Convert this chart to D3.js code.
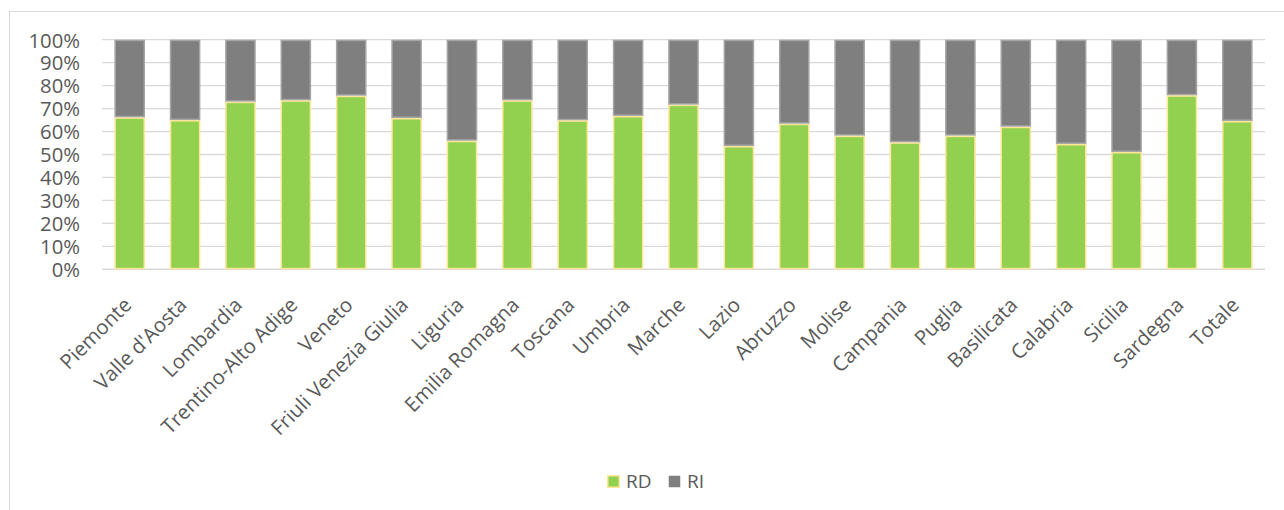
<!DOCTYPE html>
<html>
<head>
<meta charset="utf-8">
<script src="https://cdn.jsdelivr.net/npm/d3@7"></script>
<style>
  html, body { margin: 0; padding: 0; background: #fff; }
  svg { display: block; font-family: "Open Sans", sans-serif; }
</style>
</head>
<body>
<svg id="chart" width="1284" height="510"></svg>
<script>
// Regional share of separate collection (RD) vs unsorted waste (RI)
const regions = ["Piemonte", "Valle d'Aosta", "Lombardia", "Trentino-Alto Adige", "Veneto",
  "Friuli Venezia Giulia", "Liguria", "Emilia Romagna", "Toscana", "Umbria", "Marche",
  "Lazio", "Abruzzo", "Molise", "Campania", "Puglia", "Basilicata", "Calabria", "Sicilia",
  "Sardegna", "Totale"];
const rd = [0.662, 0.650, 0.730, 0.736, 0.756, 0.659, 0.560, 0.736, 0.649, 0.668, 0.717,
  0.537, 0.634, 0.582, 0.553, 0.582, 0.621, 0.546, 0.511, 0.758, 0.646];
const ri = rd.map(v => 1 - v);
const seriesNames = ["RD", "RI"];
const yTicks = [0, 0.1, 0.2, 0.3, 0.4, 0.5, 0.6, 0.7, 0.8, 0.9, 1.0];

const colors = { RD: "#92D050", RI: "#7F7F7F" };
const strokes = { RD: "#FFE699", RI: "#A5A5A5" };
const FONT = "'Open Sans', sans-serif";

const svg = d3.select("#chart");
const plot = { left: 102, right: 1265, top: 39.7, bottom: 269.3 };

// outer chart frame
svg.append("rect")
  .attr("x", 9.5).attr("y", 11.5)
  .attr("width", 1300).attr("height", 520)
  .attr("fill", "none").attr("stroke", "#D9D9D9").attr("stroke-width", 1);

const x = d3.scaleBand().domain(regions).range([plot.left, plot.right]).paddingInner(0.447).paddingOuter(0.2235);
const y = d3.scaleLinear().domain([0, 1]).range([plot.bottom, plot.top]);

// horizontal gridlines
svg.append("g")
  .selectAll("line")
  .data(yTicks)
  .join("line")
  .attr("x1", plot.left).attr("x2", plot.right)
  .attr("y1", d => y(d)).attr("y2", d => y(d))
  .attr("stroke", "#D9D9D9").attr("stroke-width", d => d === 0 ? 1.6 : 1.3);

// y axis labels
const yAxis = d3.axisLeft(y).tickValues(yTicks).tickFormat(d3.format(".0%")).tickSize(0).tickPadding(0);
const yg = svg.append("g").attr("transform", `translate(80,0)`).call(yAxis)
  .attr("font-family", FONT).attr("font-size", 20.3);
yg.select(".domain").remove();
yg.selectAll("text").attr("fill", "#595959").attr("dy", "0.36em");

// stacked bars
const rows = regions.map((r, i) => ({ region: r, RD: rd[i], RI: ri[i] }));
const stack = d3.stack().keys(seriesNames)(rows);

svg.append("g")
  .selectAll("g")
  .data(stack)
  .join("g")
  .attr("fill", d => colors[d.key])
  .attr("stroke", d => strokes[d.key])
  .attr("stroke-width", 1.5)
  .selectAll("rect")
  .data(d => d)
  .join("rect")
  .attr("x", d => x(d.data.region) + 0.75)
  .attr("width", x.bandwidth() - 1.5)
  .attr("y", d => y(d[1]) + 0.75)
  .attr("height", d => Math.max(0, y(d[0]) - y(d[1]) - 1.5));

// x axis labels, rotated
const xAxis = d3.axisBottom(x).tickSize(0).tickPadding(0);
const xg = svg.append("g").attr("transform", `translate(0,${plot.bottom})`).call(xAxis)
  .attr("font-family", FONT).attr("font-size", 20.3);
xg.select(".domain").remove();
xg.selectAll("text")
  .attr("fill", "#595959")
  .attr("text-anchor", "end")
  .attr("dy", 0).attr("y", 0)
  .attr("transform", "translate(3,37) rotate(-45)");

// legend
const legend = svg.append("g").attr("transform", "translate(607,475)").attr("font-family", FONT);
const items = [{ key: "RD", x: 0 }, { key: "RI", x: 61 }];
const li = legend.selectAll("g").data(items).join("g").attr("transform", d => `translate(${d.x},0)`);
li.append("rect")
  .attr("x", 0.75).attr("y", 0.75).attr("width", 11.5).attr("height", 11.5)
  .attr("fill", d => colors[d.key])
  .attr("stroke", d => d.key === "RD" ? strokes.RD : "none").attr("stroke-width", 1.5);
li.append("text")
  .attr("x", 19).attr("y", 6.5).attr("dy", "0.36em")
  .attr("fill", "#595959").attr("font-size", 19)
  .text(d => d.key);
</script>
</body>
</html>
